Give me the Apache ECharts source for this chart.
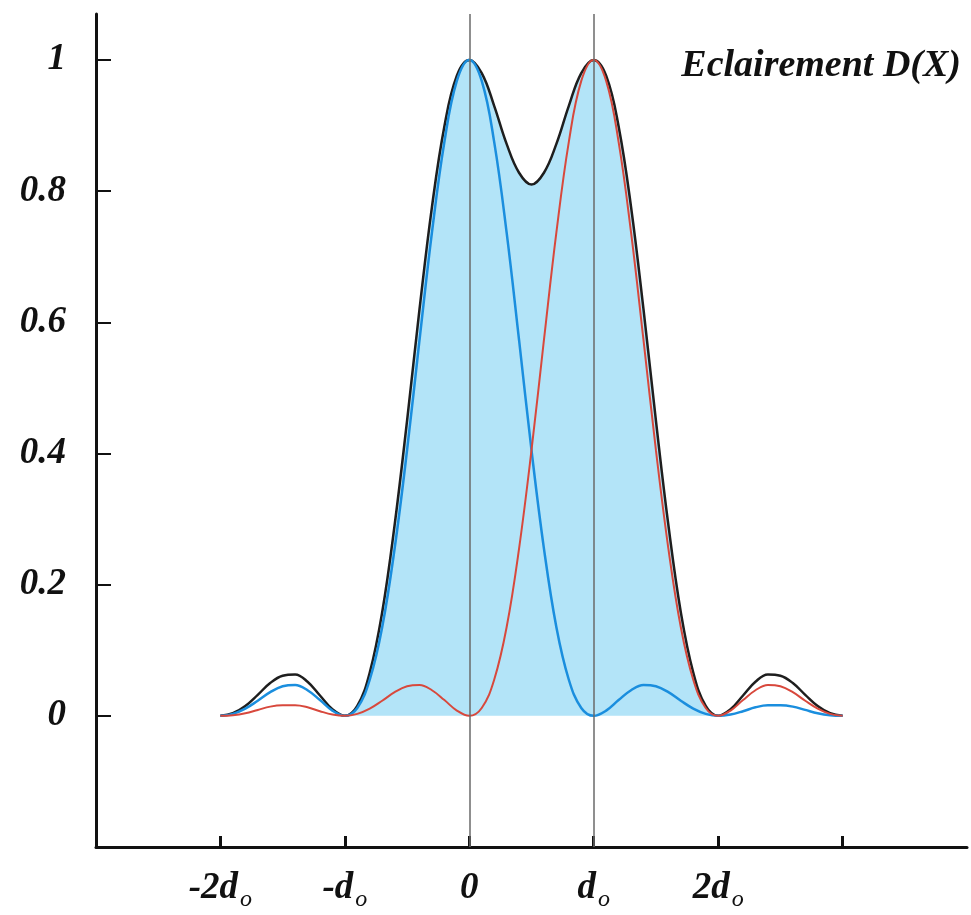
<!DOCTYPE html>
<html>
<head>
<meta charset="utf-8">
<script src="https://cdn.jsdelivr.net/npm/echarts@6/dist/echarts.min.js"></script>
<style>
  html, body { margin: 0; padding: 0; background: #fff; }
  #chart { width: 971px; height: 915px; }
</style>
</head>
<body>
<div id="chart"></div>
<script>
// positions along x, in units of d0
const xs = [-2, -1.9, -1.8, -1.7, -1.6, -1.5, -1.4, -1.3, -1.2, -1.1,
  -1, -0.9, -0.8, -0.7, -0.6, -0.5, -0.4, -0.3, -0.2, -0.1,
  0, 0.1, 0.2, 0.3, 0.4, 0.5, 0.6, 0.7, 0.8, 0.9,
  1, 1.1, 1.2, 1.3, 1.4, 1.5, 1.6, 1.7, 1.8, 1.9,
  2, 2.1, 2.2, 2.3, 2.4, 2.5, 2.6, 2.7, 2.8, 2.9, 3];

// source centred on 0 (blue)
const blue = [0, 0.003, 0.011, 0.023, 0.036, 0.045, 0.047, 0.039, 0.024, 0.008,
  0, 0.012, 0.055, 0.135, 0.255, 0.405, 0.573, 0.737, 0.875, 0.968,
  1, 0.968, 0.875, 0.737, 0.573, 0.405, 0.255, 0.135, 0.055, 0.012,
  0, 0.008, 0.024, 0.039, 0.047, 0.045, 0.036, 0.023, 0.011, 0.003,
  0, 0.002, 0.007, 0.013, 0.016, 0.016, 0.014, 0.009, 0.004, 0.001, 0];

// source centred on d0 (red)
const red = [0, 0.001, 0.004, 0.009, 0.014, 0.016, 0.016, 0.013, 0.007, 0.002,
  0, 0.003, 0.011, 0.023, 0.036, 0.045, 0.047, 0.039, 0.024, 0.008,
  0, 0.012, 0.055, 0.135, 0.255, 0.405, 0.573, 0.737, 0.875, 0.968,
  1, 0.968, 0.875, 0.737, 0.573, 0.405, 0.255, 0.135, 0.055, 0.012,
  0, 0.008, 0.024, 0.039, 0.047, 0.045, 0.036, 0.023, 0.011, 0.003, 0];

// total illumination D(X) (black)
const total = [0, 0.004, 0.015, 0.032, 0.05, 0.061, 0.063, 0.052, 0.031, 0.01,
  0, 0.015, 0.066, 0.158, 0.291, 0.45, 0.62, 0.776, 0.899, 0.976,
  1, 0.98, 0.93, 0.872, 0.828, 0.81, 0.828, 0.872, 0.93, 0.98,
  1, 0.976, 0.899, 0.776, 0.62, 0.45, 0.291, 0.158, 0.066, 0.015,
  0, 0.01, 0.031, 0.052, 0.063, 0.061, 0.05, 0.032, 0.015, 0.004, 0];

const yTicks = [0, 0.2, 0.4, 0.6, 0.8, 1];
const yTickLabels = ['0', '0.2', '0.4', '0.6', '0.8', '1'];
const xTicks = [-2, -1, 0, 1, 2, 3];
const xLabelValues = [-2, -1, 0, 1, 2];
const xLabelMain = ['-2d', '-d', '0', 'd', '2d'];
const xLabelSub = ['o', 'o', '', 'o', 'o'];
const guideLines = [0, 1];
const titleText = 'Eclairement D(X)';

const FONT = '"Liberation Serif", "DejaVu Serif", serif';

const pairs = ys => xs.map((x, i) => [x, ys[i]]);
// shaded part under D(X), from -d0 to 2d0
const fillData = pairs(total).filter(p => p[0] >= -1 && p[0] <= 2);

const chart = echarts.init(document.getElementById('chart'));

chart.setOption({
  backgroundColor: '#fff',
  animation: false,
  title: {
    text: titleText,
    right: 5,
    top: 42,
    textStyle: {
      fontFamily: FONT,
      fontStyle: 'italic',
      fontWeight: 'bold',
      fontSize: 38,
      color: '#111',
    },
  },
  grid: { left: 96, right: 4, top: 14, bottom: 68 },
  xAxis: {
    type: 'value',
    min: -3,
    max: 4,
    axisLine: { onZero: false, lineStyle: { color: '#111', width: 3 } },
    splitLine: { show: false },
    axisTick: {
      inside: true,
      length: 11,
      lineStyle: { color: '#111', width: 3 },
      customValues: xTicks,
    },
    axisLabel: {
      margin: 20,
      customValues: xLabelValues,
      formatter: v => {
        const i = xLabelValues.indexOf(v);
        if (i < 0) return '';
        return xLabelSub[i] ? `{m|${xLabelMain[i]}}{s|${xLabelSub[i]}}` : `{m|${xLabelMain[i]}}`;
      },
      rich: {
        m: {
          fontFamily: FONT, fontStyle: 'italic', fontWeight: 'bold',
          fontSize: 37, color: '#111', lineHeight: 42,
        },
        s: {
          fontFamily: FONT, fontStyle: 'italic', fontWeight: 'normal',
          fontSize: 24, color: '#111', lineHeight: 42, padding: [24, 0, 0, 2],
        },
      },
    },
  },
  yAxis: {
    type: 'value',
    min: -0.2,
    max: 1.07,
    interval: 0.2,
    axisLine: { show: true, onZero: false, lineStyle: { color: '#111', width: 3 } },
    splitLine: { show: false },
    axisTick: {
      inside: true,
      length: 15,
      lineStyle: { color: '#111', width: 2 },
      customValues: yTicks,
    },
    axisLabel: {
      margin: 30,
      customValues: yTicks,
      formatter: v => {
        const i = yTicks.findIndex(t => Math.abs(t - v) < 1e-6);
        return i < 0 ? '' : yTickLabels[i];
      },
      fontFamily: FONT,
      fontStyle: 'italic',
      fontWeight: 'bold',
      fontSize: 37,
      color: '#111',
    },
  },
  series: [
    {
      name: 'fill',
      type: 'line',
      data: fillData,
      smooth: 0.4,
      symbol: 'none',
      lineStyle: { width: 0 },
      areaStyle: { color: '#b3e4f8', opacity: 1 },
      z: 1,
      markLine: {
        silent: true,
        symbol: 'none',
        label: { show: false },
        lineStyle: { color: '#6a6a6a', width: 1.5, type: 'solid' },
        data: guideLines.map(x => ({ xAxis: x })),
      },
    },
    {
      name: 'D(X)',
      type: 'line',
      data: pairs(total),
      smooth: 0.4,
      symbol: 'none',
      lineStyle: { color: '#1e1e1e', width: 2.5 },
      z: 2,
    },
    {
      name: 'source 0',
      type: 'line',
      data: pairs(blue),
      smooth: 0.4,
      symbol: 'none',
      lineStyle: { color: '#1a8ede', width: 2.5 },
      z: 3,
    },
    {
      name: 'source d0',
      type: 'line',
      data: pairs(red),
      smooth: 0.4,
      symbol: 'none',
      lineStyle: { color: '#d8483c', width: 2 },
      z: 4,
    },
  ],
});
</script>
</body>
</html>
